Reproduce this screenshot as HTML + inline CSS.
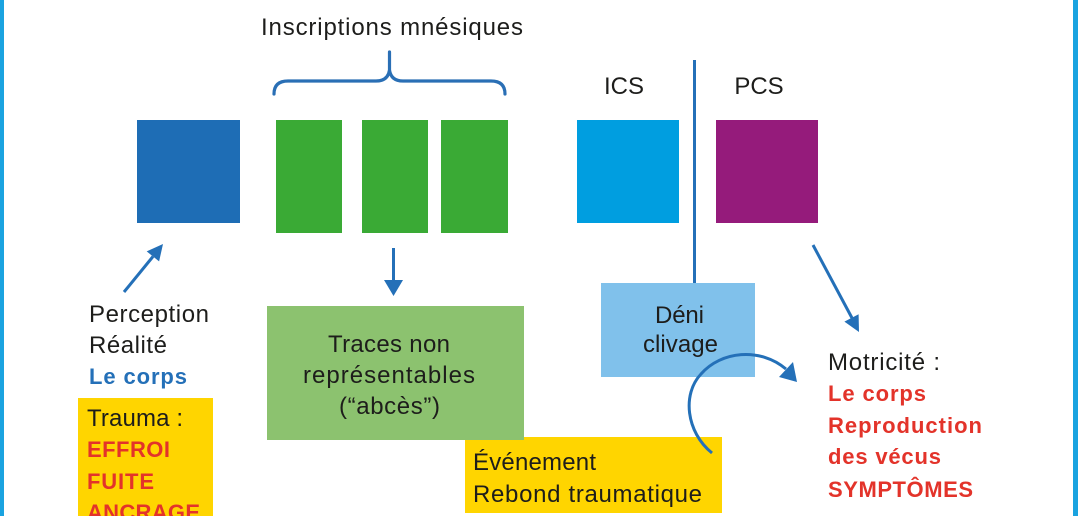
<!DOCTYPE html>
<html>
<head>
<meta charset="utf-8">
<style>
html,body{margin:0;padding:0;background:#fff;}
body{width:1078px;height:516px;overflow:hidden;}
svg{display:block;}
text{font-family:"Liberation Sans",Arial,sans-serif;font-size:24px;fill:#1d1d1b;}
.b{font-weight:700;font-size:22px;}
.red{fill:#e3332a;}
.blue{fill:#2470b8;}
</style>
</head>
<body>
<svg width="1078" height="516" viewBox="0 0 1078 516" xmlns="http://www.w3.org/2000/svg">
  <!-- frame borders -->
  <rect x="0" y="0" width="4" height="516" fill="#1aa3e0"/>
  <rect x="1073" y="0" width="5" height="516" fill="#1aa3e0"/>

  <!-- top label -->
  <text x="261" y="35" textLength="262" lengthAdjust="spacing">Inscriptions mnésiques</text>

  <!-- brace -->
  <path d="M274 94 Q274 81 288 81 L376 81 Q388 81 389.5 70 L389.5 52 M389.5 70 Q391 81 403 81 L491 81 Q505 81 505 94" fill="none" stroke="#2a6fb5" stroke-width="3.2" stroke-linecap="round"/>

  <!-- top squares -->
  <rect x="137" y="120" width="103" height="103" fill="#1e6db5"/>
  <rect x="276" y="120" width="66" height="113" fill="#3aaa35"/>
  <rect x="362" y="120" width="66" height="113" fill="#3aaa35"/>
  <rect x="441" y="120" width="67" height="113" fill="#3aaa35"/>
  <rect x="577" y="120" width="102" height="103" fill="#009ee0"/>
  <rect x="716" y="120" width="102" height="103" fill="#951b7b"/>

  <text x="624" y="94" text-anchor="middle">ICS</text>
  <text x="759" y="94" text-anchor="middle">PCS</text>

  <!-- vertical separator -->
  <line x1="694.5" y1="60" x2="694.5" y2="284" stroke="#2470b8" stroke-width="3"/>

  <!-- perception arrow -->
  <line x1="124" y1="292" x2="153" y2="256.5" stroke="#2470b8" stroke-width="3"/>
  <polygon points="163,244 159.1,261.4 146.7,251.4" fill="#2470b8"/>

  <!-- down arrow -->
  <line x1="393.5" y1="248" x2="393.5" y2="282" stroke="#2470b8" stroke-width="3"/>
  <polygon points="393.5,296 384,280 403,280" fill="#2470b8"/>

  <!-- PCS arrow -->
  <line x1="813" y1="245" x2="852" y2="318" stroke="#2470b8" stroke-width="3"/>
  <polygon points="859,332 858.6,314.2 844.4,321.6" fill="#2470b8"/>

  <!-- left texts -->
  <text x="89" y="322" textLength="120" lengthAdjust="spacing">Perception</text>
  <text x="89" y="353" textLength="78" lengthAdjust="spacing">Réalité</text>
  <text x="89" y="384" class="b blue" textLength="98" lengthAdjust="spacing">Le corps</text>

  <!-- trauma yellow box -->
  <rect x="78" y="398" width="135" height="130" fill="#ffd500"/>
  <text x="87" y="426" textLength="96" lengthAdjust="spacing">Trauma :</text>
  <text x="87" y="457" class="b red" textLength="83" lengthAdjust="spacing">EFFROI</text>
  <text x="87" y="489" class="b red" textLength="67" lengthAdjust="spacing">FUITE</text>
  <text x="87" y="520" class="b red" textLength="113" lengthAdjust="spacing">ANCRAGE</text>

  <!-- événement yellow box -->
  <rect x="465" y="437" width="257" height="76" fill="#ffd500"/>
  <text x="473" y="470" textLength="123" lengthAdjust="spacing">Événement</text>
  <text x="473" y="502" textLength="229" lengthAdjust="spacing">Rebond traumatique</text>

  <!-- traces green box -->
  <rect x="267" y="306" width="257" height="134" fill="#8cc26f"/>
  <text x="328" y="352" textLength="122" lengthAdjust="spacing">Traces non</text>
  <text x="303" y="383" textLength="172" lengthAdjust="spacing">représentables</text>
  <text x="339" y="414" textLength="101" lengthAdjust="spacing">(“abcès”)</text>

  <!-- déni box -->
  <rect x="601" y="283" width="154" height="94" fill="#80c1eb"/>
  <text x="655" y="323" textLength="49" lengthAdjust="spacing">Déni</text>
  <text x="643" y="352" textLength="75" lengthAdjust="spacing">clivage</text>

  <!-- curved arrow -->
  <path d="M712 453 C686 432 682 394 701 374 C721 351 760 347 786 369" fill="none" stroke="#2470b8" stroke-width="3"/>
  <polygon points="797,382 779,377 793,362" fill="#2470b8"/>

  <!-- right texts -->
  <text x="828" y="370" textLength="112" lengthAdjust="spacing">Motricité :</text>
  <text x="828" y="401" class="b red" textLength="98" lengthAdjust="spacing">Le corps</text>
  <text x="828" y="433" class="b red" textLength="154" lengthAdjust="spacing">Reproduction</text>
  <text x="828" y="464" class="b red" textLength="113" lengthAdjust="spacing">des vécus</text>
  <text x="828" y="497" class="b red" textLength="145" lengthAdjust="spacing">SYMPTÔMES</text>
</svg>
</body>
</html>
